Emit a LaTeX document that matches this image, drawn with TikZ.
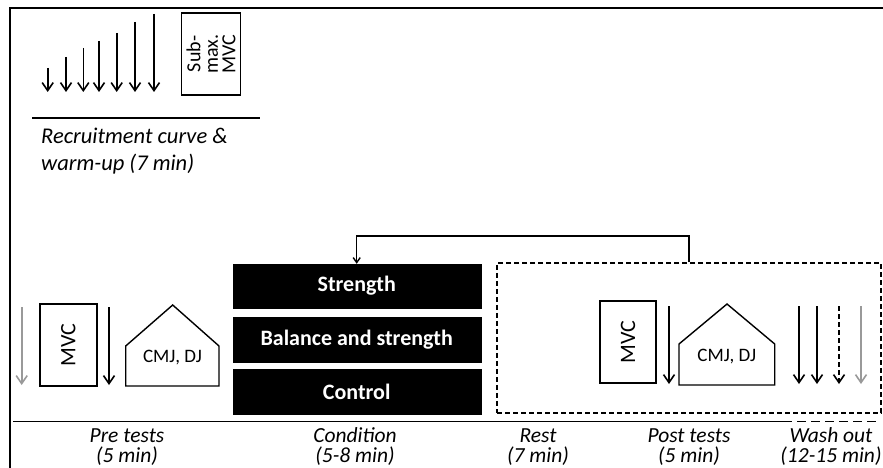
\documentclass[tikz,border=0pt]{standalone}
\usepackage{fontspec}
\setmainfont{Carlito}
\usetikzlibrary{arrows.meta}
\begin{document}
\begin{tikzpicture}[x=1pt,y=-1pt,
  arr/.style={line width=1.6pt,-{Straight Barb[length=8pt,width=11pt,line width=1.6pt]}},
  grayarr/.style={arr,draw=black!40},
  dsh/.style={dash pattern=on 5pt off 3pt},
  dasharr/.style={arr,dsh},
  box/.style={draw,line width=1.4pt,inner sep=0pt},
  blk/.style={fill=black,draw=black,text=white,font=\fontsize{22}{24}\selectfont\bfseries,minimum width=248pt,inner sep=0pt},
  lbl/.style={font=\fontsize{21.5}{20}\selectfont\itshape,align=center,anchor=base},
  housetxt/.style={font=\fontsize{19}{22}\selectfont,inner sep=0pt},
  house/.style={draw,line width=1.4pt,line join=miter}]
\useasboundingbox (0,0) rectangle (883,468);
% frame
\draw[line width=2.2pt] (10,468) -- (10,8) -- (883,8);
% recruitment arrows
\foreach \i/\x/\t in {1/47.7/68,2/66/57,3/83.3/48,4/99/41,5/116.7/33,6/135/22,7/154/14}{
  \coordinate (rs\i) at (\x,\t);
  \coordinate (re\i) at (\x,92);
  \draw[arr] (rs\i) -- (re\i);
}
\node[box,rotate=90,minimum width=82pt,minimum height=59pt,align=center,
  font=\fontsize{20}{17.5}\selectfont] (submvc) at (211,54) {Sub-\\max.\\MVC};
\coordinate (tl1) at (32,118); \coordinate (tl2) at (260,118);
\draw[line width=1.4pt] (tl1) -- (tl2);
\node[font=\fontsize{22.5}{27}\selectfont\itshape,align=left,anchor=base west,inner sep=0pt] (rec) at (41,170) {Recruitment curve \&\\warm-up (7 min)};
% pre tests
\coordinate (pg1) at (21.7,307); \coordinate (pg2) at (21.7,385);
\draw[grayarr] (pg1) -- (pg2);
\node[box,rotate=90,minimum width=82pt,minimum height=57pt,font=\fontsize{22}{22}\selectfont] (premvc) at (68.3,345) {MVC};
\coordinate (pa1) at (109,307); \coordinate (pa2) at (109,385);
\draw[arr] (pa1) -- (pa2);
\draw[house] (125.7,386) -- (125.7,346) -- (172.7,305) -- (219,346) -- (219,386) -- cycle;
\node[housetxt] (prehouse) at (172.5,358) {CMJ, DJ};
% condition
\node[blk,minimum height=44pt] (str) at (356.7,286) {Strength};
\node[blk,minimum height=45pt] (bal) at (356.7,339.5) {Balance and strength};
\node[blk,minimum height=45pt] (ctl) at (356.7,391.5) {Control};
% dashed box
\node[draw,dsh,line width=1.4pt,minimum width=384pt,minimum height=150pt,inner sep=0pt] (post) at (689,337.8) {};
\draw[line width=1.4pt,-{Straight Barb[length=5pt,width=7pt,line width=1.4pt]}] (post.north) -- (689,236) -- (356.7,236) -- (str.north);
% post tests
\node[box,rotate=90,minimum width=82pt,minimum height=56pt,font=\fontsize{22}{22}\selectfont] (postmvc) at (628,342) {MVC};
\coordinate (qa1) at (669,306); \coordinate (qa2) at (669,384);
\draw[arr] (qa1) -- (qa2);
\draw[house] (679,385) -- (679,344) -- (727,304) -- (774.7,344) -- (774.7,385) -- cycle;
\node[housetxt] (posthouse) at (726.8,357) {CMJ, DJ};
% wash out arrows
\foreach \i/\x/\s in {1/799/arr,2/817/arr,3/839/dasharr,4/861/grayarr}{
  \coordinate (w\i a) at (\x,306); \coordinate (w\i b) at (\x,384);
  \draw[\s] (w\i a) -- (w\i b);
}
% timeline
\coordinate (t0) at (13,421.7); \coordinate (t1) at (783,421.7); \coordinate (t2) at (880,421.7);
\draw[line width=1.4pt] (t0) -- (t1);
\draw[line width=1.4pt,dash pattern=on 9pt off 5pt] (t1) -- (t2);
% labels
\node[lbl] (lpre) at (127,462) {Pre tests\\(5 min)};
\node[lbl] (lcond) at (355,462) {Condition\\(5-8 min)};
\node[lbl] (lrest) at (538,462) {Rest\\(7 min)};
\node[lbl] (lpost) at (689,462) {Post tests\\(5 min)};
\node[lbl] (lwash) at (831,462) {Wash out\\(12-15 min)};
\end{tikzpicture}
\end{document}
